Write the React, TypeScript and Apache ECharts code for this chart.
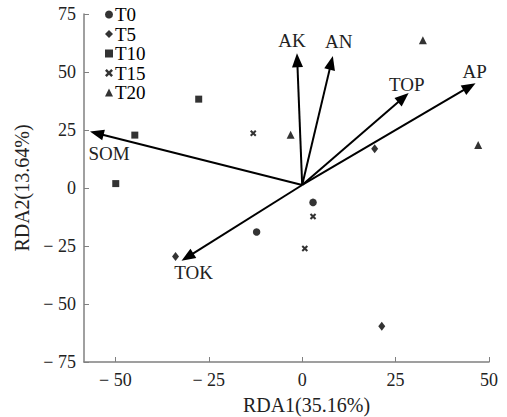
import React, { useEffect, useRef } from 'react';
import * as echarts from 'echarts';

// ---- data ----
const xTicks = [-50, -25, 0, 25, 50];
const yTicks = [-75, -50, -25, 0, 25, 50, 75];
const groupNames = ['T0', 'T5', 'T10', 'T15', 'T20'];
const T0 = [[-12.2, -19.0], [2.9, -6.2]];
const T5 = [[-33.9, -29.5], [19.4, 16.9], [21.3, -59.6]];
const T10 = [[-49.9, 1.9], [-44.8, 22.8], [-27.7, 38.3]];
const T15 = [[-13.1, 23.6], [2.9, -12.3], [0.7, -26.1]];
const T20 = [[32.3, 63.7], [-3.1, 22.9], [47.1, 18.5]];
const arrowOrigin = [0, 1.3];
const arrowNames = ['AK', 'AN', 'TOP', 'AP', 'SOM', 'TOK'];
const arrowTips = [[-1.4, 58.1], [8.2, 56.9], [28.5, 40.9], [46.4, 45.2], [-56.8, 24.3], [-32.3, -31.4]];

// ---- styles / layout ----
const FONT = 'Liberation Serif';
const AXIS_COLOR = '#808080';
const labelOffsets = [[-5, -13], [6, -14], [-2, -9], [-1, -12], [19, 22], [12, 12]];
const CROSS = 'path://M0,2.2 L2.2,0 L5,2.8 L7.8,0 L10,2.2 L7.2,5 L10,7.8 L7.8,10 L5,7.2 L2.2,10 L0,7.8 L2.8,5 Z';
const symbols = ['circle', 'diamond', 'rect', CROSS, 'triangle'];
const symbolSizes = [7.5, [7, 9], 7, 6.5, 8];
const HEAD_LEN = 14;
const HEAD_HALF_W = 5.5;

const fmt = (v: number) => (v < 0 ? '\u2212 ' + Math.abs(v) : String(v));

export default function App() {
  const ref = useRef<HTMLDivElement>(null);
  useEffect(() => {
    if (!ref.current) return;
    const chart = echarts.init(ref.current, null, { renderer: 'svg' });
    const groups = [T0, T5, T10, T15, T20];
    const scatterSeries = groups.map((d, i) => ({
      name: groupNames[i],
      type: 'scatter',
      data: d,
      symbol: symbols[i],
      symbolSize: symbolSizes[i],
      itemStyle: { color: '#000' },
      z: 3,
    }));
    const arrowData = arrowTips.map((t, i) => [arrowOrigin[0], arrowOrigin[1], t[0], t[1], i]);
    chart.setOption({
      animation: false,
      textStyle: { fontFamily: FONT },
      grid: { left: 84, right: 18, top: 14, bottom: 55, containLabel: false, outerBoundsMode: 'none' },
      legend: {
        orient: 'vertical',
        left: 100,
        top: 0,
        itemWidth: 8,
        itemHeight: 8,
        itemGap: 0.5,
        textStyle: { fontFamily: FONT, fontSize: 19, lineHeight: 19, color: '#000', padding: [0, 0, 0, -3] },
        data: groupNames.map((n, i) => ({ name: n, icon: symbols[i], itemStyle: { color: '#000' } })),
      },
      xAxis: {
        type: 'value',
        min: -58.4,
        max: 50,
        name: 'RDA1(35.16%)',
        nameLocation: 'middle',
        nameGap: 33,
        nameTextStyle: { fontFamily: FONT, fontSize: 20, color: '#222', padding: [0, 0, 0, 40] },
        axisLine: { onZero: false, lineStyle: { color: AXIS_COLOR, width: 1.5 } },
        axisTick: { inside: true, length: 5, customValues: xTicks, lineStyle: { color: AXIS_COLOR } },
        axisLabel: { customValues: xTicks, formatter: fmt, margin: 9, fontFamily: FONT, fontSize: 18, color: '#222' },
        splitLine: { show: false },
      },
      yAxis: {
        type: 'value',
        min: -75,
        max: 75,
        interval: 25,
        name: 'RDA2(13.64%)',
        nameLocation: 'middle',
        nameGap: 49,
        nameRotate: 90,
        nameTextStyle: { fontFamily: FONT, fontSize: 20, color: '#222' },
        axisLine: { show: true, onZero: false, lineStyle: { color: AXIS_COLOR, width: 1.5 } },
        axisTick: { show: true, inside: true, length: 5, lineStyle: { color: AXIS_COLOR } },
        axisLabel: { formatter: fmt, margin: 8, fontFamily: FONT, fontSize: 18, color: '#222', customValues: yTicks },
        splitLine: { show: false },
      },
      series: [
        ...scatterSeries,
        {
          name: 'arrows',
          type: 'custom',
          coordinateSystem: 'cartesian2d',
          silent: true,
          z: 2,
          data: arrowData,
          renderItem: (params: any, api: any) => {
            const p0 = api.coord([api.value(0), api.value(1)]);
            const p1 = api.coord([api.value(2), api.value(3)]);
            const idx = api.value(4);
            const dx = p1[0] - p0[0];
            const dy = p1[1] - p0[1];
            const len = Math.sqrt(dx * dx + dy * dy) || 1;
            const ux = dx / len;
            const uy = dy / len;
            const bx = p1[0] - ux * HEAD_LEN;
            const by = p1[1] - uy * HEAD_LEN;
            const nx = -uy;
            const ny = ux;
            const off = labelOffsets[idx];
            return {
              type: 'group',
              children: [
                {
                  type: 'line',
                  shape: { x1: p0[0], y1: p0[1], x2: bx + ux * 1, y2: by + uy * 1 },
                  style: { stroke: '#000', lineWidth: 2 },
                },
                {
                  type: 'polygon',
                  shape: {
                    points: [
                      [p1[0], p1[1]],
                      [bx + nx * HEAD_HALF_W, by + ny * HEAD_HALF_W],
                      [bx - nx * HEAD_HALF_W, by - ny * HEAD_HALF_W],
                    ],
                  },
                  style: { fill: '#000' },
                },
                {
                  type: 'text',
                  x: p1[0] + off[0],
                  y: p1[1] + off[1],
                  style: {
                    text: arrowNames[idx],
                    fontFamily: FONT,
                    fontSize: 19,
                    fill: '#222',
                    align: 'center',
                    verticalAlign: 'middle',
                  },
                },
              ],
            };
          },
        },
      ],
    });
    return () => chart.dispose();
  }, []);
  return <div ref={ref} style={{ position: 'absolute', left: 0, top: 0, width: 507, height: 417 }} />;
}
